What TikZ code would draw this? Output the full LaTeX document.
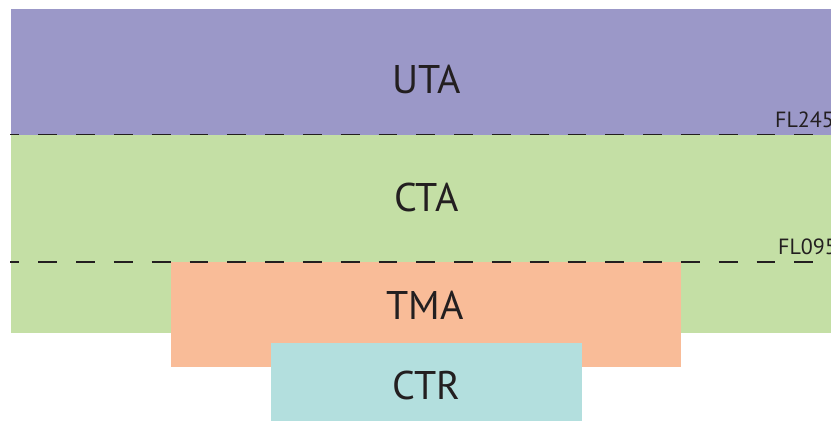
\documentclass[tikz,border=0pt]{standalone}
\usepackage{fontspec}
\setmainfont{PT Sans}
\definecolor{utac}{HTML}{9B98C8}
\definecolor{ctac}{HTML}{C4DFA5}
\definecolor{tmac}{HTML}{F9BC98}
\definecolor{ctrc}{HTML}{B3DFDE}
\definecolor{linec}{HTML}{231F20}
\tikzset{
  biglabel/.style={anchor=base, inner sep=0pt, font=\fontsize{40}{40}\selectfont, text=linec},
  fllabel/.style={anchor=base west, inner sep=0pt, font=\fontsize{22}{22}\selectfont, text=linec},
  flline/.style={draw=linec, line width=1.5pt, dash pattern=on 18.9pt off 18.9pt, dash phase=9.5pt}
}
\begin{document}
\begin{tikzpicture}[x=1pt,y=-1pt]
\useasboundingbox (0,0) rectangle (831,421);
\clip (0,0) rectangle (831,421);
\fill[utac] (11,9) rectangle (831,134.5);
\fill[ctac] (11,134.5) rectangle (831,333);
\fill[tmac] (171,262) rectangle (681,367);
\fill[ctrc] (271,343) rectangle (582,421);
\coordinate (l1a) at (10,134.5);
\coordinate (l1b) at (831,134.5);
\coordinate (l2a) at (10,262);
\coordinate (l2b) at (831,262);
\draw[flline] (l1a) -- (l1b);
\draw[flline] (l2a) -- (l2b);
\node[biglabel] (uta) at (426.5,93) {UTA};
\node[biglabel] (cta) at (426.5,211) {CTA};
\node[biglabel] (tma) at (425,319) {TMA};
\node[biglabel] (ctr) at (426.5,399) {CTR};
\node[fllabel] (fl245) at (775,127) {FL245};
\node[fllabel] (fl095) at (778,254) {FL095};
\end{tikzpicture}
\end{document}
